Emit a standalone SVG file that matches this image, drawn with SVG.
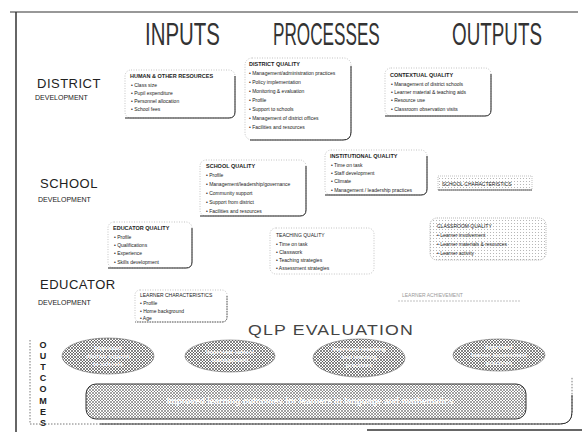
<svg xmlns="http://www.w3.org/2000/svg" width="582" height="435" viewBox="0 0 582 435">
<defs>
<pattern id="hatch" width="3" height="3" patternUnits="userSpaceOnUse"><rect width="3" height="3" fill="#fff"/><path d="M0,0L3,3M3,0L0,3" stroke="#333" stroke-width="0.6"/></pattern>
<pattern id="hatch2" width="3" height="3" patternUnits="userSpaceOnUse"><rect width="3" height="3" fill="#fff"/><path d="M0,0L3,3M3,0L0,3" stroke="#555" stroke-width="0.55"/></pattern>
<pattern id="dots" width="3" height="3" patternUnits="userSpaceOnUse"><rect width="3" height="3" fill="#fff"/><circle cx="1.5" cy="1.5" r="0.55" fill="#aaa"/></pattern>
</defs>
<style>
.head{font-family:"Liberation Sans",Arial,sans-serif;font-size:32px;fill:#333}
.row{font-family:"Liberation Sans",Arial,sans-serif;font-size:13px;fill:#222;letter-spacing:0.5px}
.dev{font-family:"Liberation Sans",Arial,sans-serif;font-size:7px;fill:#222}
.bt{font-family:"Liberation Sans",Arial,sans-serif;font-size:5.5px;font-weight:bold;fill:#222}
.bi{font-family:"Liberation Sans",Arial,sans-serif;font-size:5px;fill:#222}
.box{fill:#fff;stroke:#aaa;stroke-width:0.7;stroke-dasharray:1 1.5}
.edge{fill:none;stroke:#222;stroke-width:1}
.ell{fill:url(#hatch);stroke:#666;stroke-width:0.6}
.et{font-family:"Liberation Sans",Arial,sans-serif;font-size:6px;font-weight:bold;fill:#fff;text-anchor:middle}
.oc{font-family:"Liberation Sans",Arial,sans-serif;font-size:9px;font-weight:bold;fill:#222;text-anchor:middle}
</style>
<rect width="582" height="435" fill="#fff"/>
<g id="frame">
<path d="M10,12H578" stroke="#333" stroke-width="1.2"/>
<path d="M16,12V432" stroke="#333" stroke-width="1.5"/>
<path d="M30,340V424H560Q572,424 572,412V377" fill="none" stroke="#555" stroke-width="0.8" stroke-dasharray="1.5 1.5"/>
<path d="M560,424Q572,424 572,412V395" fill="none" stroke="#333" stroke-width="1"/>
<path d="M100,424H560" stroke="#333" stroke-width="1"/>
<path d="M367,430H582" stroke="#333" stroke-width="1.5"/>
</g>
<g id="headings">
<text class="head" transform="translate(145,45) scale(0.6,1)" textLength="125" lengthAdjust="spacingAndGlyphs">INPUTS</text>
<text class="head" transform="translate(273,45) scale(0.6,1)" textLength="178" lengthAdjust="spacingAndGlyphs">PROCESSES</text>
<text class="head" transform="translate(452,45) scale(0.6,1)" textLength="150" lengthAdjust="spacingAndGlyphs">OUTPUTS</text>
</g>
<g id="rows">
<text class="row" x="37" y="88">DISTRICT</text>
<text class="dev" x="35" y="100">DEVELOPMENT</text>
<text class="row" x="40" y="188">SCHOOL</text>
<text class="dev" x="38" y="202">DEVELOPMENT</text>
<text class="row" x="40" y="289">EDUCATOR</text>
<text class="dev" x="38" y="305">DEVELOPMENT</text>
</g>
<g id="district-inputs">
<rect class="box" x="125" y="70" width="110" height="48" rx="6"/>
<path class="edge" d="M235,76V112Q235,118 229,118H125"/>
<text class="bt" x="130" y="78">HUMAN &amp; OTHER RESOURCES</text>
<text class="bi" x="131" y="87">• Class size</text>
<text class="bi" x="131" y="95">• Pupil expenditure</text>
<text class="bi" x="131" y="103">• Personnel allocation</text>
<text class="bi" x="131" y="111">• School fees</text>
</g>
<g id="district-quality">
<rect class="box" x="245" y="58" width="106" height="82" rx="7"/>
<path class="edge" d="M351,66V132Q351,140 343,140H250"/>
<text class="bt" x="249" y="66">DISTRICT QUALITY</text>
<text class="bi" x="249" y="75">• Management/administration practices</text>
<text class="bi" x="249" y="84">• Policy implementation</text>
<text class="bi" x="249" y="93">• Monitoring &amp; evaluation</text>
<text class="bi" x="249" y="102">• Profile</text>
<text class="bi" x="249" y="111">• Support to schools</text>
<text class="bi" x="249" y="120">• Management of district offices</text>
<text class="bi" x="249" y="129">• Facilities and resources</text>
</g>
<g id="district-outputs">
<rect class="box" x="385" y="68" width="106" height="48" rx="6"/>
<path class="edge" d="M491,74V110Q491,116 485,116H385"/>
<text class="bt" x="390" y="77">CONTEXTUAL QUALITY</text>
<text class="bi" x="391" y="86">• Management of district schools</text>
<text class="bi" x="391" y="94">• Learner material &amp; teaching aids</text>
<text class="bi" x="391" y="102">• Resource use</text>
<text class="bi" x="391" y="111">• Classroom observation visits</text>
</g>
<g id="school-quality">
<rect class="box" x="200" y="160" width="106" height="56" rx="6"/>
<path class="edge" d="M306,166V210Q306,216 300,216H200"/>
<text class="bt" x="206" y="168">SCHOOL QUALITY</text>
<text class="bi" x="206" y="177">• Profile</text>
<text class="bi" x="206" y="186">• Management/leadership/governance</text>
<text class="bi" x="206" y="195">• Community support</text>
<text class="bi" x="206" y="204">• Support from district</text>
<text class="bi" x="206" y="213">• Facilities and resources</text>
</g>
<g id="institutional-quality">
<rect class="box" x="325" y="150" width="102" height="45" rx="6"/>
<path class="edge" d="M427,156V189Q427,195 421,195H325"/>
<text class="bt" x="330" y="158">INSTITUTIONAL QUALITY</text>
<text class="bi" x="331" y="167">• Time on task</text>
<text class="bi" x="331" y="175">• Staff development</text>
<text class="bi" x="331" y="183">• Climate</text>
<text class="bi" x="331" y="192">• Management / leadership practices</text>
</g>
<g id="school-characteristics">
<rect x="438" y="176" width="94" height="14" fill="url(#dots)" stroke="#999" stroke-width="0.6" stroke-dasharray="1 1"/>
<path d="M438,190H532" stroke="#333" stroke-width="0.8"/>
<text class="bi" x="442" y="186">SCHOOL CHARACTERISTICS</text>
</g>
<g id="educator-quality">
<rect class="box" x="108" y="222" width="84" height="46" rx="6"/>
<path class="edge" d="M192,228V262Q192,268 186,268H108"/>
<text class="bt" x="113" y="230">EDUCATOR QUALITY</text>
<text class="bi" x="114" y="239">• Profile</text>
<text class="bi" x="114" y="247">• Qualifications</text>
<text class="bi" x="114" y="255">• Experience</text>
<text class="bi" x="114" y="264">• Skills development</text>
</g>
<g id="teaching-quality">
<rect class="box" x="270" y="228" width="104" height="46" rx="6"/>
<text class="bi" x="276" y="237">TEACHING QUALITY</text>
<text class="bi" x="276" y="246">• Time on task</text>
<text class="bi" x="276" y="254">• Classwork</text>
<text class="bi" x="276" y="262">• Teaching strategies</text>
<text class="bi" x="276" y="270">• Assessment strategies</text>
</g>
<g id="classroom-quality">
<rect x="430" y="218" width="116" height="42" rx="7" fill="url(#dots)" stroke="#999" stroke-width="0.7" stroke-dasharray="1 1"/>
<text class="bi" x="437" y="228">CLASSROOM QUALITY</text>
<text class="bi" x="437" y="237">• Learner involvement</text>
<text class="bi" x="437" y="246">• Learner materials &amp; resources</text>
<text class="bi" x="437" y="255">• Learner activity</text>
</g>
<g id="learner-inputs">
<rect class="box" x="135" y="290" width="92" height="32" rx="5"/>
<path class="edge" d="M227,296V317Q227,322 222,322H135" style="stroke:#555;stroke-dasharray:1.5 1"/>
<text class="bi" x="140" y="297">LEARNER CHARACTERISTICS</text>
<text class="bi" x="140" y="305">• Profile</text>
<text class="bi" x="140" y="313">• Home background</text>
<text class="bi" x="140" y="320">• Age</text>
</g>
<g id="learner-outputs">
<text class="bi" x="402" y="297" style="fill:#999">LEARNER ACHIEVEMENT</text>
<path d="M398,301H520" stroke="#999" stroke-width="0.6" stroke-dasharray="2 1"/>
</g>
<g id="qlp-evaluation">
<text x="248" y="335" style="font-family:'Liberation Sans',Arial,sans-serif;font-size:15px;fill:#444;letter-spacing:1px" textLength="166" lengthAdjust="spacingAndGlyphs">QLP EVALUATION</text>
</g>
<g id="outcomes-label">
<text class="oc" x="43" y="348">O</text>
<text class="oc" x="43" y="359">U</text>
<text class="oc" x="43" y="370">T</text>
<text class="oc" x="43" y="381">C</text>
<text class="oc" x="43" y="392">O</text>
<text class="oc" x="43" y="404">M</text>
<text class="oc" x="43" y="415">E</text>
<text class="oc" x="43" y="426">S</text>
</g>
<g id="outcome1">
<ellipse class="ell" cx="108" cy="356" rx="46" ry="18"/>
<text class="et" x="108" y="350">Improved</text>
<text class="et" x="108" y="358">district support</text>
<text class="et" x="108" y="366">to schools</text>
</g>
<g id="outcome2">
<ellipse class="ell" cx="230" cy="356" rx="45" ry="16"/>
<text class="et" x="230" y="354">Improved school</text>
<text class="et" x="230" y="362">management</text>
</g>
<g id="outcome3">
<ellipse class="ell" cx="359" cy="358" rx="46" ry="19"/>
<text class="et" x="359" y="351">Improved teaching</text>
<text class="et" x="359" y="359">and learning</text>
<text class="et" x="359" y="367">practices</text>
</g>
<g id="outcome4">
<ellipse class="ell" cx="499" cy="355" rx="46" ry="16"/>
<text class="et" x="499" y="349">Improved</text>
<text class="et" x="499" y="357">learner assessment</text>
<text class="et" x="499" y="365">practices</text>
</g>
<g id="main-outcome">
<rect x="86" y="384" width="440" height="35" rx="10" fill="url(#hatch2)" stroke="#333" stroke-width="1"/>
<text x="310" y="404" style="font-family:'Liberation Sans',Arial,sans-serif;font-size:8.5px;font-weight:bold;fill:#fff;text-anchor:middle">Improved learning outcomes for learners in language and mathematics</text>
</g>
<g id="connectors"></g>
</svg>
